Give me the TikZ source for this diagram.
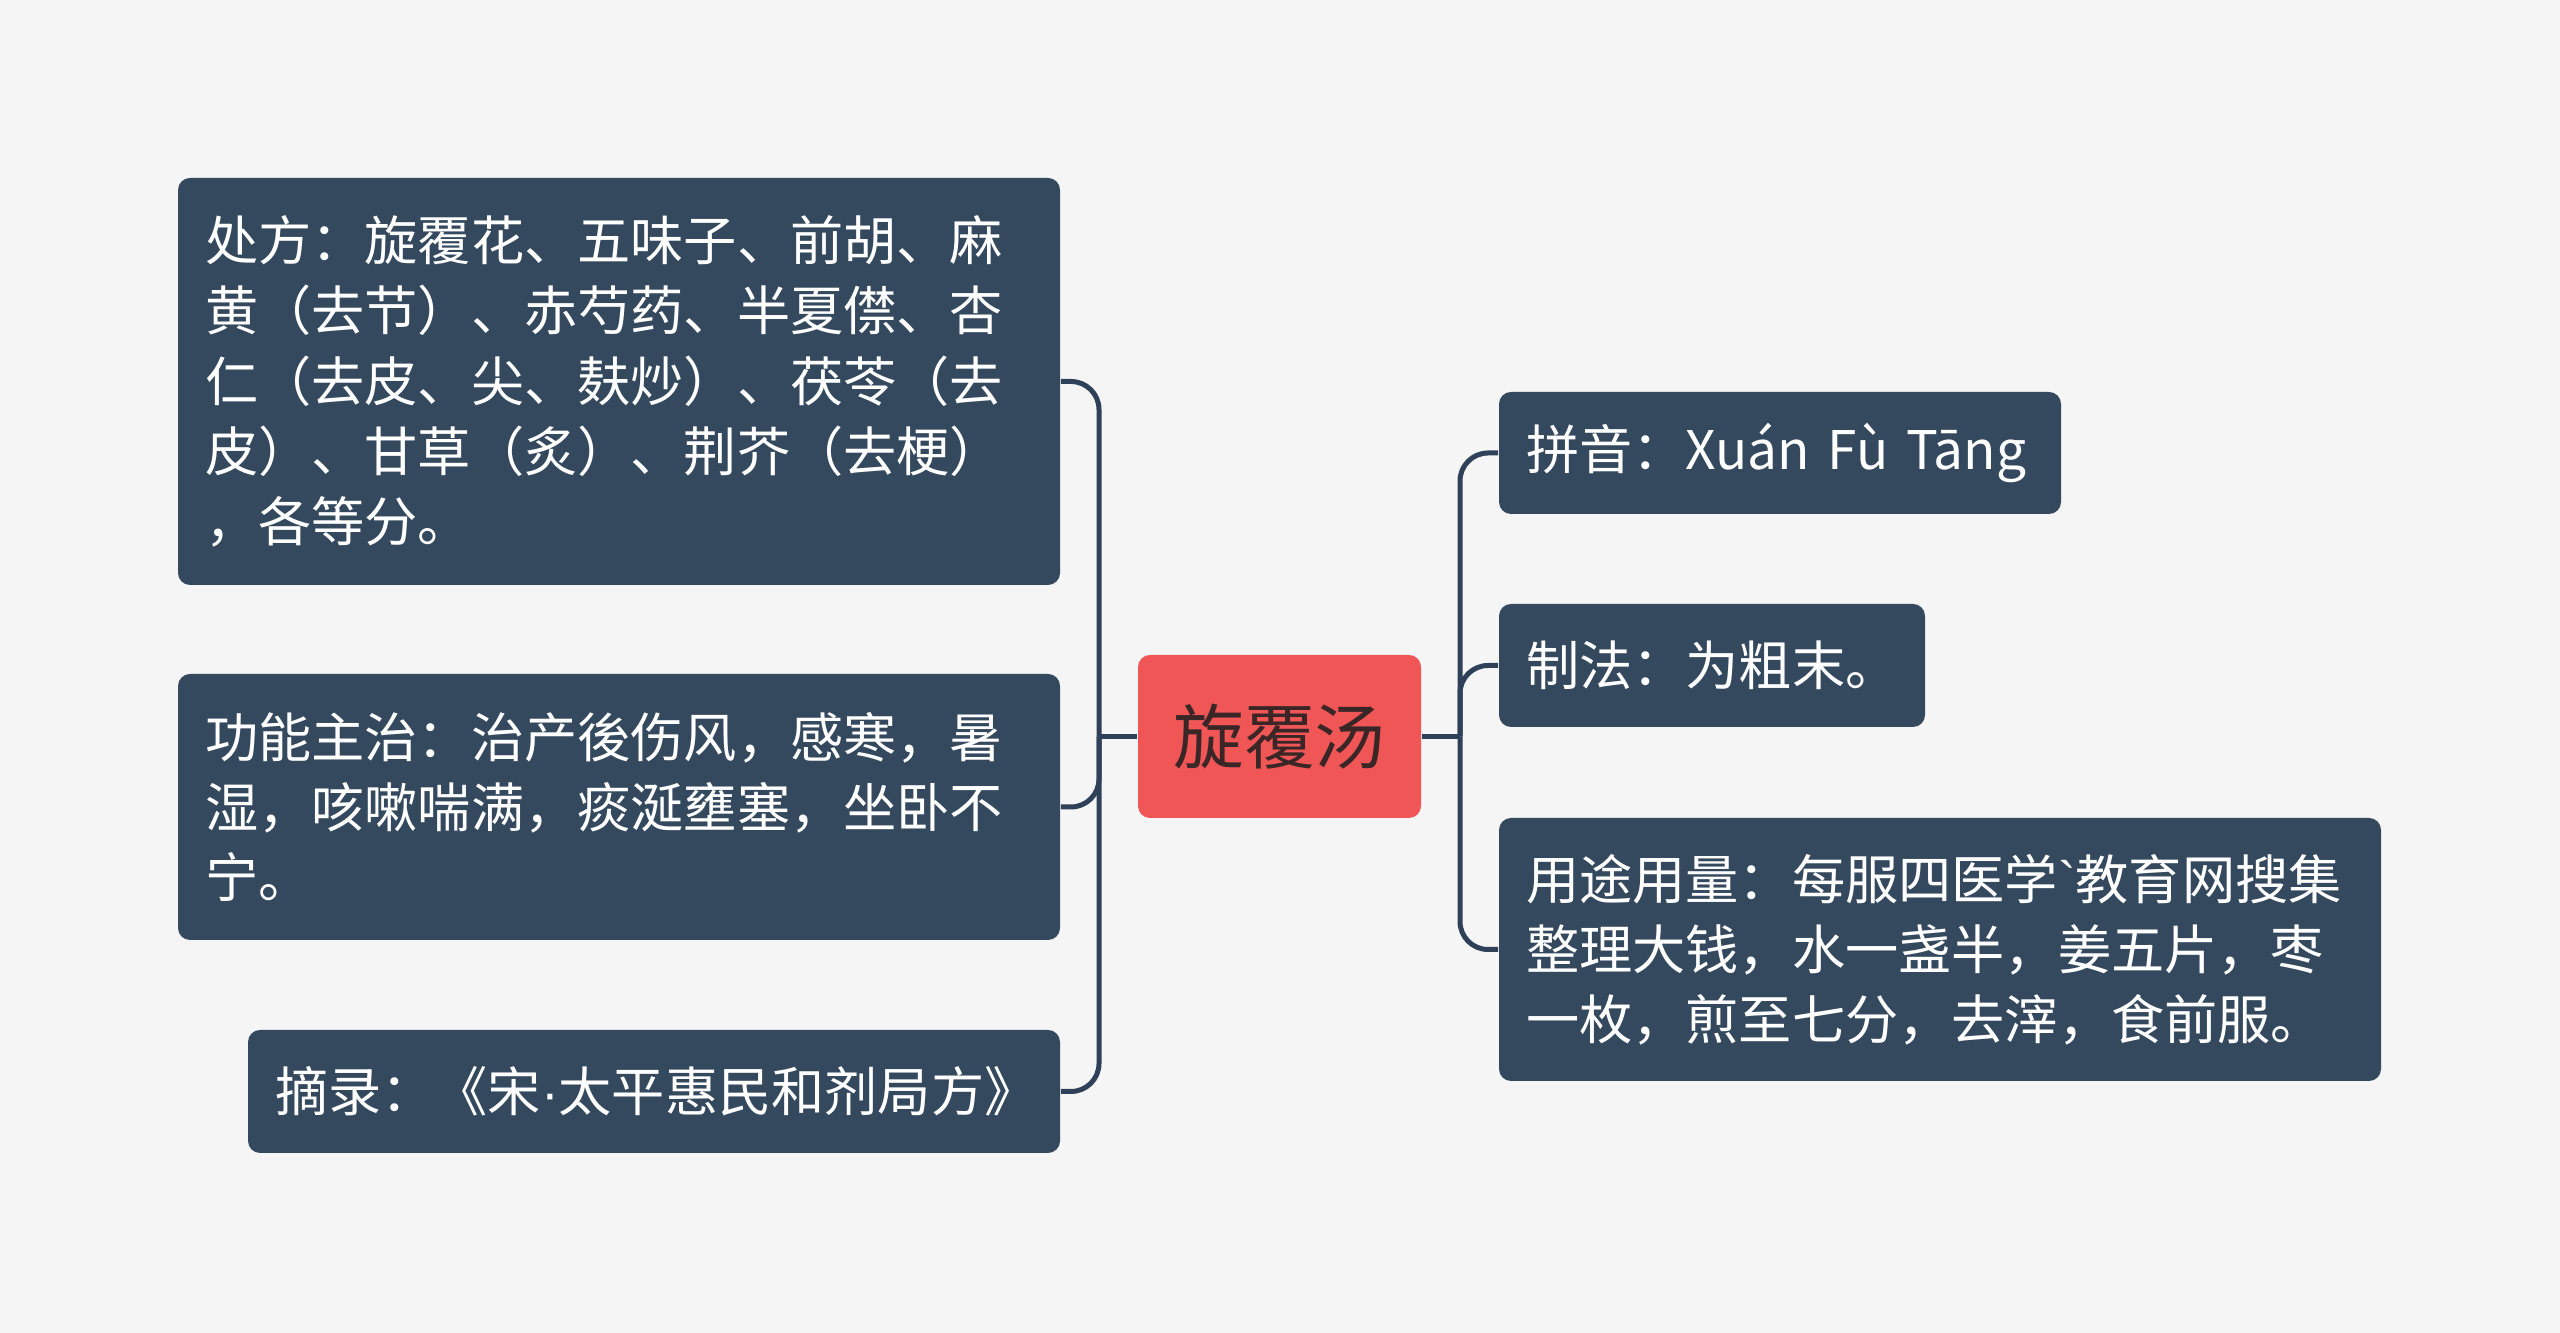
\documentclass[tikz,border=0pt]{standalone}
\usepackage{fontspec}
\newfontfamily\cjk{Noto Sans CJK SC}
\newfontfamily\latn{Liberation Sans}
\definecolor{bgc}{HTML}{F5F5F5}
\definecolor{boxc}{HTML}{34495E}
\definecolor{linec}{HTML}{2E4158}
\definecolor{rootc}{HTML}{F05656}
\definecolor{roottext}{HTML}{3A2626}
\tikzset{
  leaf/.style={fill=boxc, rounded corners=3pt, text=white, align=left,
    inner xsep=6.75pt, inner ysep=0pt,
    font=\cjk\fontsize{13.3pt}{17.55pt}\selectfont},
  rootbox/.style={fill=rootc, rounded corners=3pt, text=roottext, align=center,
    inner sep=0pt, font=\cjk\fontsize{17.7pt}{21pt}\selectfont},
  conn/.style={draw=linec, line width=1.25pt, rounded corners=7pt}
}
\begin{document}
\begin{tikzpicture}[x=0.25pt,y=-0.25pt]
\fill[bgc] (0,0) rectangle (2560,1333);
\useasboundingbox (0,0) rectangle (2560,1333);

\node[rootbox, minimum width=70.75pt, minimum height=40.75pt] (root) at (1279.5,736.5) {旋覆汤};

\node[leaf, text width=207pt, minimum height=101.75pt] (b1) at (619,381.5)
  {处方：旋覆花、五味子、前胡、麻\\黄（去节）、赤芍药、半夏僸、杏\\仁（去皮、尖、麸炒）、茯苓（去\\皮）、甘草（炙）、荆芥（去梗）\\，各等分。};
\node[leaf, text width=207pt, minimum height=66.5pt] (b2) at (619,807)
  {功能主治：治产後伤风，感寒，暑\\湿，咳嗽喘满，痰涎壅塞，坐卧不\\宁。};
\node[leaf, text width=189.5pt, minimum height=30.75pt] (b3) at (654,1091.5)
  {摘录：《宋{\latn ·}太平惠民和剂局方》};

\node[leaf, text width=127pt, minimum height=30.5pt] (r1) at (1780,453)
  {拼音：Xuán Fù Tāng};
\node[leaf, text width=93pt, minimum height=30.75pt] (r2) at (1712,665.5)
  {制法：为粗末。};
\node[leaf, text width=207pt, minimum height=65.75pt] (r3) at (1940,949.5)
  {用途用量：每服四医学{\latn\char"60}教育网搜集\\整理大钱，水一盏半，姜五片，枣\\一枚，煎至七分，去滓，食前服。};

\coordinate (tl) at (1099,736.5);
\coordinate (tr) at (1460,736.5);

\draw[conn] (root.west) -- (tl);
\draw[conn] (tl) |- (b1.east);
\draw[conn] (tl) |- (b2.east);
\draw[conn] (tl) |- (b3.east);

\draw[conn] (root.east) -- (tr);
\draw[conn] (tr) |- (r1.west);
\draw[conn] (tr) |- (r2.west);
\draw[conn] (tr) |- (r3.west);
\end{tikzpicture}
\end{document}
